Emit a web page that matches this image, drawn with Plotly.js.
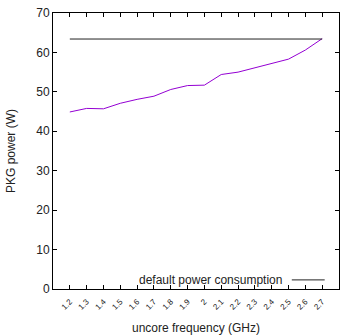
<!DOCTYPE html>
<html><head><meta charset="utf-8">
<script src="https://cdn.plot.ly/plotly-3.0.1.min.js"></script>
<style>html,body{margin:0;padding:0;background:#fff}#c{width:340px;height:335px}</style>
</head><body><div id="c"></div>
<script>
const freqs = [1.2,1.3,1.4,1.5,1.6,1.7,1.8,1.9,2.0,2.1,2.2,2.3,2.4,2.5,2.6,2.7];
const tickLabels = ["1.2","1.3","1.4","1.5","1.6","1.7","1.8","1.9","2","2.1","2.2","2.3","2.4","2.5","2.6","2.7"];
const pkgPower = [44.9,45.8,45.7,47.1,48.1,48.9,50.6,51.6,51.7,54.4,55.0,56.1,57.2,58.3,60.6,63.5];
const defaultX = [1.2, 2.7];
const defaultPower = [63.4, 63.4];
const legendLabel = "default power consumption";

const font = {family: "Liberation Sans, Arial, sans-serif", color: "#222"};
const traces = [
  {x: freqs, y: pkgPower, mode: "lines", line: {color: "#9400d3", width: 1}, showlegend: false, hoverinfo: "skip"},
  {x: defaultX, y: defaultPower, mode: "lines", line: {color: "#222", width: 1}, showlegend: false, hoverinfo: "skip"}
];
const layout = {
  width: 340, height: 335,
  margin: {l: 53, r: 1, t: 13, b: 46},
  paper_bgcolor: "#fff", plot_bgcolor: "#fff",
  font: Object.assign({size: 12}, font),
  xaxis: {
    range: [1.1, 2.8], tickmode: "array", tickvals: freqs, ticktext: tickLabels,
    tickangle: -45, tickfont: Object.assign({size: 8}, font), ticklabelstandoff: 4,
    ticks: "inside", ticklen: 4, tickcolor: "#000", showgrid: false, zeroline: false,
    showline: true, linecolor: "#000", linewidth: 1, mirror: "ticks",
    title: {text: "uncore frequency (GHz)", font: Object.assign({size: 12}, font), standoff: 19}
  },
  yaxis: {
    range: [0, 70], dtick: 10, tick0: 0,
    tickfont: Object.assign({size: 12}, font),
    ticks: "inside", ticklen: 4, tickcolor: "#000", showgrid: false, zeroline: false,
    showline: true, linecolor: "#000", linewidth: 1, mirror: "ticks",
    title: {text: "PKG power (W)", font: Object.assign({size: 12}, font), standoff: 18}
  },
  annotations: [{
    xref: "paper", yref: "paper", x: 0.808, y: 0.033, xanchor: "right", yanchor: "middle",
    text: legendLabel, showarrow: false, font: Object.assign({size: 12}, font)
  }],
  shapes: [{
    type: "line", xref: "paper", yref: "paper", x0: 0.835, x1: 0.95, y0: 0.033, y1: 0.033,
    line: {color: "#222", width: 1}
  }]
};
Plotly.newPlot("c", traces, layout, {staticPlot: true, displayModeBar: false});
</script>
</body></html>
